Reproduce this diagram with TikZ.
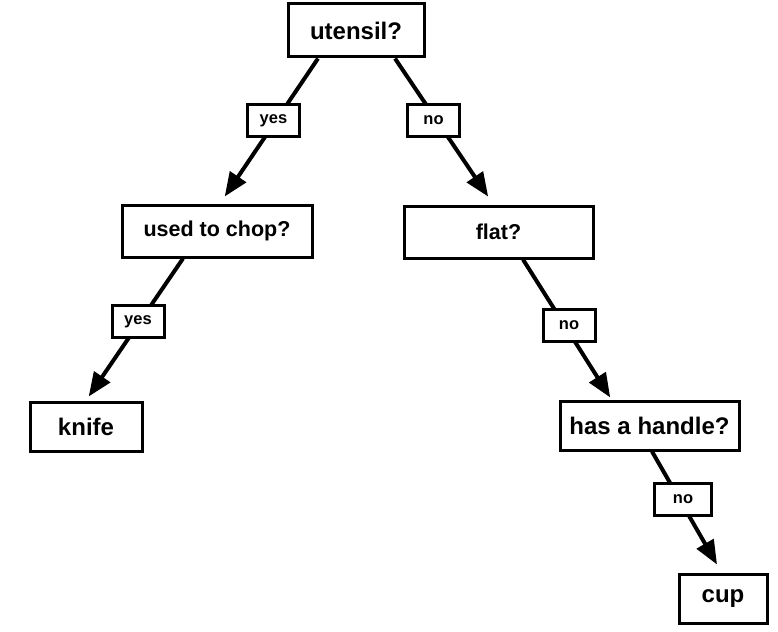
\documentclass[tikz,border=0pt]{standalone}
\usepackage{fontspec}
\setmainfont{Liberation Sans}
\usetikzlibrary{arrows.meta}
\begin{document}
\begin{tikzpicture}[x=1pt,y=-1pt,
  box/.style={draw, line width=3pt, fill=white, inner sep=0pt, font=\fontsize{24}{28}\selectfont\bfseries},
  qbox/.style={box, font=\fontsize{21.5}{26}\selectfont\bfseries},
  lbl/.style={draw, line width=3pt, fill=white, inner sep=0pt, minimum width=52pt, minimum height=32pt, font=\fontsize{16.5}{20}\selectfont\bfseries},
  edge/.style={line width=4pt, -{Triangle[length=24pt,width=19pt]}}]
\useasboundingbox (0,0) rectangle (778,631);
\node[box, minimum width=136pt, minimum height=53pt] (ut) at (356,30.5) {utensil?};
\node[qbox, minimum width=190pt, minimum height=52pt] (chop) at (217,231) {used to chop?};
\node[qbox, minimum width=189pt, minimum height=52pt] (flat) at (498.5,232) {flat?};
\node[box, minimum width=112pt, minimum height=49pt] (knife) at (86,426.5) {knife};
\node[box, minimum width=179pt, minimum height=49pt] (handle) at (649.5,425.5) {has a handle?};
\node[box, minimum width=88pt, minimum height=49pt] (cup) at (723,598.5) {cup};
\draw[edge, shorten >=8.4pt] ([xshift=-38pt]ut.south) -- ([xshift=3pt]chop.north);
\draw[edge, shorten >=9.5pt] ([xshift=39pt]ut.south) -- ([xshift=-5pt]flat.north);
\draw[edge, shorten >=4.8pt] ([xshift=-34pt]chop.south) -- ([xshift=0pt]knife.north);
\draw[edge, shorten >=2.4pt] ([xshift=24.5pt]flat.south) -- ([xshift=-38pt]handle.north);
\draw[edge, shorten >=9.2pt] ([xshift=2.5pt]handle.south) -- ([xshift=-1.4pt]cup.north);
\node[lbl] (l1) at (273.5,120.5) {yes};
\node[lbl] (l2) at (433.5,120.5) {no};
\node[lbl] (l3) at (138,321.5) {yes};
\node[lbl] (l4) at (569,325.5) {no};
\node[lbl, minimum width=57pt] (l5) at (683,499) {no};
\end{tikzpicture}
\end{document}
